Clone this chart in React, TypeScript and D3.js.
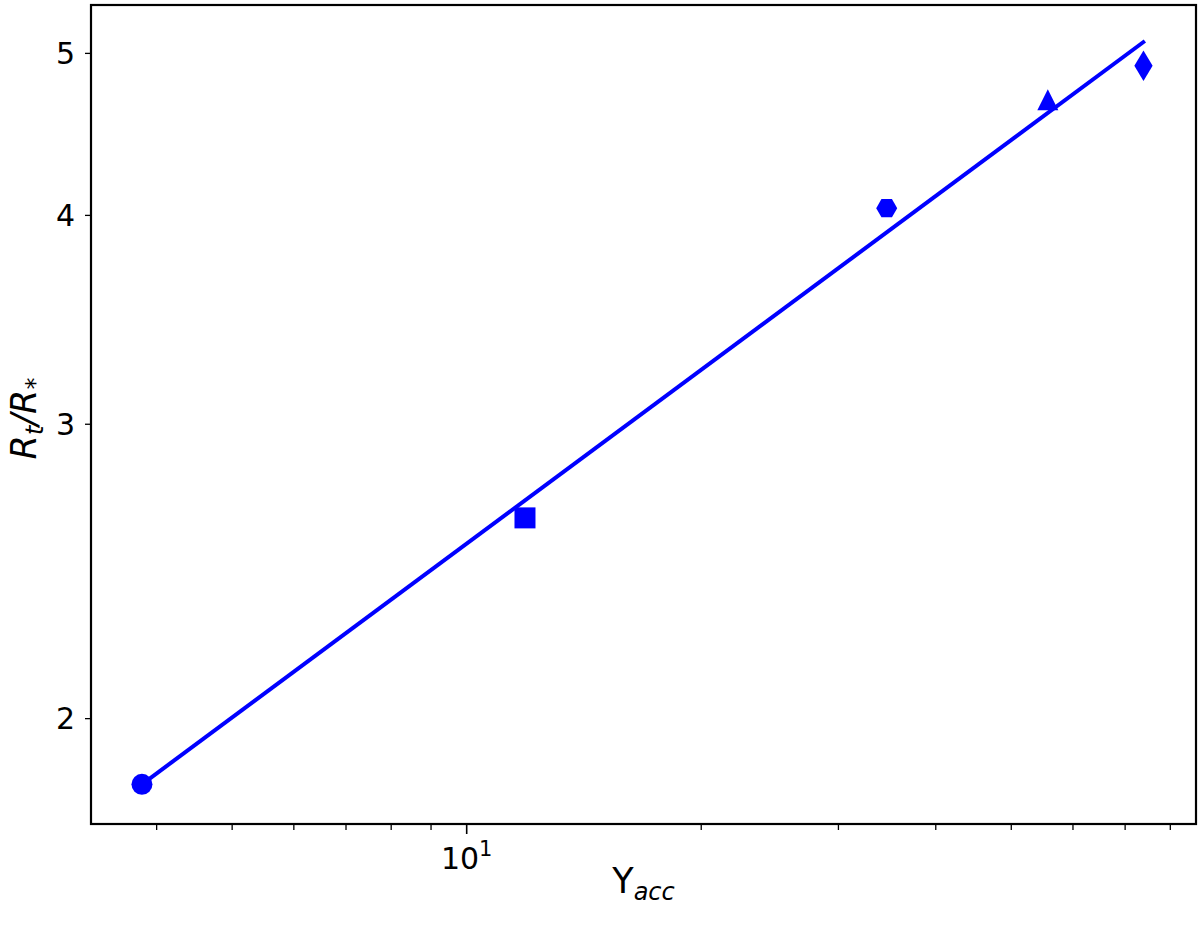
import React from 'react';
import * as d3 from 'd3';

// values (log-log)
const yAcc = [3.83, 11.88, 34.6, 55.7, 73.9];
const rtOverRstar = [1.827, 2.637, 4.04, 4.69, 4.915];
const markerKinds = ['circle', 'square', 'hexagon', 'triangle', 'thinDiamond'];

// fitted power law, end points
const fitX = [3.83, 74.2];
const fitY = [1.827, 5.086];

const xDomain = [3.2946, 86.31];
const yDomain = [1.7298, 5.3446];
const xMajorTicks = [10];
const xMinorTicks = [4, 5, 6, 7, 8, 9, 20, 30, 40, 50, 60, 70, 80];
const yTicks = [2, 3, 4, 5];

const W = 1200;
const H = 927;
const left = 91;
const right = 1196;
const top = 5;
const bottom = 824;
const BLUE = '#0000ff';
const FONT = '"DejaVu Sans", sans-serif';

const markerPath = (kind: string, ms: number) => {
  const r = ms / 2;
  if (kind === 'circle') {
    return `M${r},0A${r},${r} 0 1,1 ${-r},0A${r},${r} 0 1,1 ${r},0Z`;
  }
  if (kind === 'square') {
    return `M${-r},${-r}H${r}V${r}H${-r}Z`;
  }
  if (kind === 'hexagon') {
    const pts = d3.range(6).map(i => {
      const a = (Math.PI / 3) * i;
      return [r * Math.cos(a), r * Math.sin(a)];
    });
    return 'M' + pts.map(p => p.join(',')).join('L') + 'Z';
  }
  if (kind === 'triangle') {
    return `M0,${-r}L${r},${r}L${-r},${r}Z`;
  }
  // thin diamond
  const h = r * 1.45;
  const w = r * 0.87;
  return `M0,${-h}L${w},0L0,${h}L${-w},0Z`;
};

const App = () => {
  const x = d3.scaleLog().domain(xDomain).range([left, right]);
  const y = d3.scaleLog().domain(yDomain).range([bottom, top]);

  const line = d3.line<number>()
    .x(i => x(fitX[i]))
    .y(i => y(fitY[i]));

  return (
    <svg width={W} height={H} style={{ display: 'block', position: 'absolute', left: 0, top: 0, background: '#fff' }}>
      <rect x={0} y={0} width={W} height={H} fill="#fff" />

      {/* fit line */}
      <path d={line(d3.range(fitX.length)) || ''} fill="none" stroke={BLUE} strokeWidth={4} />

      {/* markers */}
      {yAcc.map((v, i) => (
        <path
          key={i}
          d={markerPath(markerKinds[i], 21)}
          transform={`translate(${x(v)},${y(rtOverRstar[i])})`}
          fill={BLUE}
        />
      ))}

      {/* frame */}
      <rect x={left} y={top} width={right - left} height={bottom - top} fill="none" stroke="#000" strokeWidth={2.2} />

      {/* x ticks */}
      {xMajorTicks.map(t => (
        <g key={'M' + t}>
          <line x1={x(t)} x2={x(t)} y1={bottom} y2={bottom + 10} stroke="#000" strokeWidth={1.6} />
          <text x={x(t)} y={869} textAnchor="middle" fontFamily={FONT} fontSize={30}>
            10<tspan fontSize={21} dy={-13}>1</tspan>
          </text>
        </g>
      ))}
      {xMinorTicks.map(t => (
        <line key={'m' + t} x1={x(t)} x2={x(t)} y1={bottom} y2={bottom + 6} stroke="#000" strokeWidth={1.3} />
      ))}

      {/* y ticks */}
      {yTicks.map(t => (
        <g key={'y' + t}>
          <line x1={left - 6} x2={left} y1={y(t)} y2={y(t)} stroke="#000" strokeWidth={1.3} />
          <text x={75} y={y(t)} dy="0.36em" textAnchor="end" fontFamily={FONT} fontSize={30}>{t}</text>
        </g>
      ))}

      {/* axis labels */}
      <text x={(left + right) / 2} y={893} textAnchor="middle" fontFamily={FONT} fontSize={35}>
        Y<tspan fontStyle="italic" fontSize={24} dy={7}>acc</tspan>
      </text>
      <text
        transform={`translate(36,${(top + bottom) / 2 + 4}) rotate(-90)`}
        textAnchor="middle"
        fontFamily={FONT}
        fontSize={35}
        fontStyle="italic"
      >
        R<tspan fontSize={24} dy={7}>t</tspan><tspan fontSize={35} dy={-7}>/R</tspan><tspan fontSize={24} dy={7}>*</tspan>
      </text>
    </svg>
  );
};

export default App;
